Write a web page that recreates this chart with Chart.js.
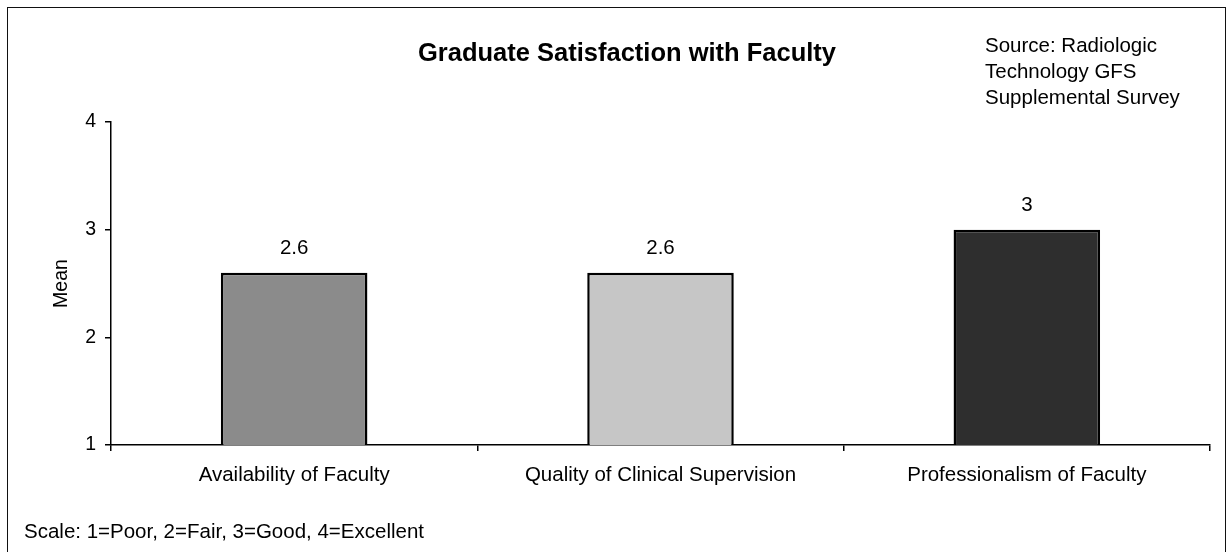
<!DOCTYPE html>
<html>
<head>
<meta charset="utf-8">
<script src="https://cdn.jsdelivr.net/npm/chart.js@4/dist/chart.umd.min.js"></script>
<style>
  html, body { margin: 0; padding: 0; background: #fff; }
  body { width: 1230px; height: 552px; position: relative; overflow: hidden;
         font-family: "Liberation Sans", Arial, sans-serif; color: #000; }
  #frame { position: absolute; left: 7px; top: 7px; width: 1219px; height: 600px;
           border: 1.5px solid #111; box-sizing: border-box; }
  #wrap { position: absolute; left: 0; top: 0; width: 1230px; height: 552px; }
  .txt { position: absolute; white-space: nowrap; }
  #title { left: 418px; top: 37px; font-size: 25.5px; font-weight: bold; line-height: 30px; }
  #source { left: 985px; top: 32px; font-size: 20.5px; line-height: 26px; }
  #note { left: 24px; top: 519px; font-size: 20.5px; line-height: 24px; }
</style>
</head>
<body>
<div id="frame"></div>
<div id="wrap"><canvas id="chart" width="1230" height="552"></canvas></div>
<div class="txt" id="title">Graduate Satisfaction with Faculty</div>
<div class="txt" id="source">Source: Radiologic<br>Technology GFS<br>Supplemental Survey</div>
<div class="txt" id="note">Scale: 1=Poor, 2=Fair, 3=Good, 4=Excellent</div>
<script>
/* ====== 数据 ====== */
const categories = ["Availability of Faculty", "Quality of Clinical Supervision", "Professionalism of Faculty"];
const means = [2.6, 2.6, 3];
const valueLabels = ["2.6", "2.6", "3"];
const yTicks = [1, 2, 3, 4];
const barColors = ["#8b8b8b", "#c6c6c6", "#2e2e2e"];

const FONT = "'Liberation Sans', Arial, sans-serif";

/* ====== 柱顶数值 ====== */
const valuePlugin = {
  id: "valueLabels",
  afterDatasetsDraw(chart) {
    const { ctx } = chart;
    const meta = chart.getDatasetMeta(0);
    ctx.save();
    ctx.font = `20.5px ${FONT}`;
    ctx.fillStyle = "#000";
    ctx.textAlign = "center";
    ctx.textBaseline = "middle";
    meta.data.forEach((bar, i) => {
      ctx.fillText(valueLabels[i], bar.x, bar.y - 24.5);
    });
    ctx.restore();
  },
};

new Chart(document.getElementById("chart"), {
  type: "bar",
  data: {
    labels: categories,
    datasets: [
      {
        data: means,
        backgroundColor: barColors,
        borderColor: "#000",
        borderWidth: 2.5,
        borderSkipped: false,
        barPercentage: 0.4,
        categoryPercentage: 1,
      },
    ],
  },
  options: {
    responsive: false,
    animation: false,
    events: [],
    layout: { padding: { top: 122, right: 20, left: 0, bottom: 0 } },
    plugins: { legend: { display: false }, tooltip: { enabled: false } },
    scales: {
      x: {
        offset: true,
        afterFit: (s) => { s.height = 107; },
        grid: { offset: true, drawOnChartArea: false, drawTicks: true, tickLength: 6, color: "#000", lineWidth: 1.5 },
        border: { display: true, color: "#000", width: 1.5 },
        ticks: { color: "#000", padding: 12, font: { size: 20.5, family: FONT }, maxRotation: 0 },
      },
      y: {
        min: 1,
        max: 4,
        afterFit: (s) => { s.width = 111; },
        afterBuildTicks: (s) => { s.ticks = yTicks.map((v) => ({ value: v })); },
        grid: { drawOnChartArea: false, drawTicks: true, tickLength: 6, color: "#000", lineWidth: 1.5 },
        border: { display: true, color: "#000", width: 1.5 },
        ticks: { color: "#000", padding: 9, font: { size: 19.5, family: FONT } },
        title: { display: true, text: "Mean", color: "#000", font: { size: 19.5, family: FONT }, padding: { top: 50, bottom: 0 } },
      },
    },
  },
  plugins: [valuePlugin],
});
</script>
</body>
</html>
